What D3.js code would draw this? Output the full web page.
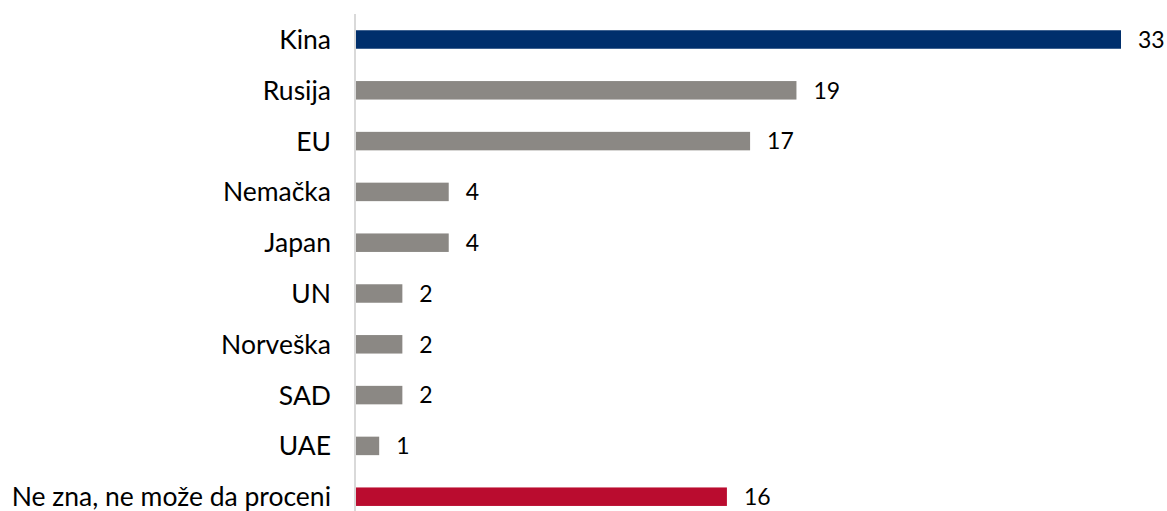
<!DOCTYPE html>
<html><head><meta charset="utf-8">
<script src="https://cdn.jsdelivr.net/npm/d3@7"></script>
<style>html,body{margin:0;padding:0;background:#fff;}svg{display:block;}</style>
</head><body>
<svg id="chart" width="1167" height="511"></svg>
<script>
const categories = ["Kina","Rusija","EU","Nemačka","Japan","UN","Norveška","SAD","UAE","Ne zna, ne može da proceni"];
const values = [33,19,17,4,4,2,2,2,1,16];
const colors = ["#002f6c","#8b8884","#8b8884","#8b8884","#8b8884","#8b8884","#8b8884","#8b8884","#8b8884","#ba0c2f"];

const svg = d3.select("#chart");
const font = "Lato, 'Open Sans', sans-serif";
const x = d3.scaleLinear().domain([0,33]).range([356,1121]);
const y = d3.scaleBand().domain(categories).range([14.1,522.1]).paddingInner(0.636).paddingOuter(0.318);

svg.append("line").attr("x1",355).attr("x2",355).attr("y1",14).attr("y2",511)
  .attr("stroke","#d9d9d9").attr("stroke-width",2);

svg.selectAll("rect.bar").data(categories).join("rect").attr("class","bar")
  .attr("x",x(0)).attr("y",d=>y(d)).attr("height",y.bandwidth())
  .attr("width",(d,i)=>x(values[i])-x(0)).attr("fill",(d,i)=>colors[i]);

svg.selectAll("text.cat").data(categories).join("text").attr("class","cat")
  .attr("x",331).attr("y",d=>y(d)+y.bandwidth()/2).attr("dy","0.36em")
  .attr("text-anchor","end").attr("font-family",font).attr("font-size",26.5).attr("fill","#000")
  .text(d=>d);

svg.selectAll("text.val").data(categories).join("text").attr("class","val")
  .attr("x",(d,i)=>x(values[i])+17).attr("y",d=>y(d)+y.bandwidth()/2).attr("dy","0.36em")
  .attr("text-anchor","start").attr("font-family",font).attr("font-size",23).attr("fill","#000")
  .text((d,i)=>values[i]);
</script>
</body></html>
